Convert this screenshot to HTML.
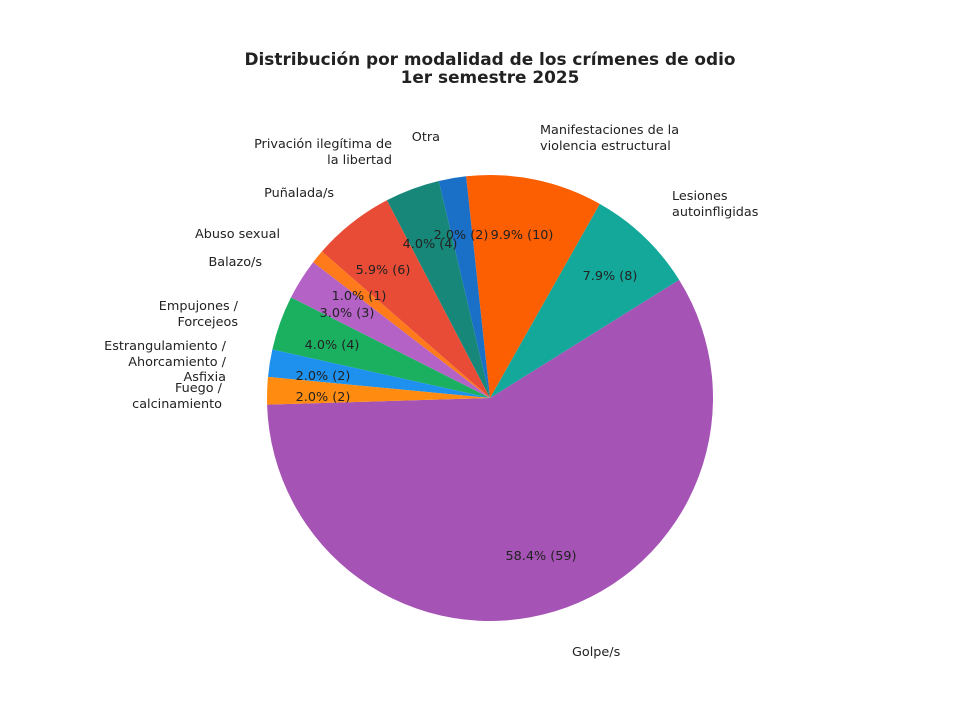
<!DOCTYPE html>
<html><head><meta charset="utf-8"><style>
html,body{margin:0;padding:0;background:#fff;}
svg{display:block;font-family:"DejaVu Sans","Liberation Sans",sans-serif;}
</style></head><body>
<svg id="s" width="954" height="703" viewBox="0 0 954 703">
<rect width="954" height="703" fill="#fff"/>
<text x="490" y="65" text-anchor="middle" font-size="16.9" font-weight="bold" fill="#222">Distribución por modalidad de los crímenes de odio</text>
<text x="490" y="83" text-anchor="middle" font-size="16.9" font-weight="bold" fill="#222">1er semestre 2025</text>
<g id="w"></g>
<g font-size="12.8" fill="#222">
<text x="540" y="134">Manifestaciones de la</text>
<text x="540" y="150">violencia estructural</text>
<text x="672" y="200">Lesiones</text>
<text x="672" y="216">autoinfligidas</text>
<text x="440" y="141" text-anchor="end">Otra</text>
<text x="392" y="148" text-anchor="end">Privación ilegítima de</text>
<text x="392" y="164" text-anchor="end">la libertad</text>
<text x="334" y="197" text-anchor="end">Puñalada/s</text>
<text x="280" y="238" text-anchor="end">Abuso sexual</text>
<text x="262" y="266" text-anchor="end">Balazo/s</text>
<text x="238" y="310" text-anchor="end">Empujones /</text>
<text x="238" y="326" text-anchor="end">Forcejeos</text>
<text x="226" y="350" text-anchor="end">Estrangulamiento /</text>
<text x="226" y="366" text-anchor="end">Ahorcamiento /</text>
<text x="226" y="381" text-anchor="end">Asfixia</text>
<text x="222" y="392" text-anchor="end">Fuego /</text>
<text x="222" y="408" text-anchor="end">calcinamiento</text>
<text x="572" y="656">Golpe/s</text>
</g>
<g font-size="12.8" fill="#222" text-anchor="middle">
<text x="541" y="560">58.4% (59)</text>
<text x="610" y="280">7.9% (8)</text>
<text x="522" y="239">9.9% (10)</text>
<text x="461" y="239">2.0% (2)</text>
<text x="430" y="248">4.0% (4)</text>
<text x="383" y="274">5.9% (6)</text>
<text x="359" y="300">1.0% (1)</text>
<text x="347" y="317">3.0% (3)</text>
<text x="332" y="349">4.0% (4)</text>
<text x="323" y="380">2.0% (2)</text>
<text x="323" y="401">2.0% (2)</text>
</g>
</svg>
<script>
var cx=490,cy=398,r=223;
var d=[[59,"#a553b5"],[8,"#14a89b"],[10,"#fc5e02"],[2,"#1a70c6"],[4,"#17877a"],[6,"#e84c36"],[1,"#ff7a1a"],[3,"#b462c6"],[4,"#1bb060"],[2,"#1e90ee"],[2,"#ff8c10"]];
var a=-178.3,g=document.getElementById("w"),h="";
function p(t){t=t*Math.PI/180;return (cx+r*Math.cos(t)).toFixed(2)+","+(cy-r*Math.sin(t)).toFixed(2);}
d.forEach(function(e){var s=e[0]/101*360,b=a+s;
h+='<path d="M'+cx+','+cy+' L'+p(a)+' A'+r+','+r+' 0 '+(s>180?1:0)+' 0 '+p(b)+' Z" fill="'+e[1]+'"/>';a=b;});
g.innerHTML=h;
</script>
</body></html>
